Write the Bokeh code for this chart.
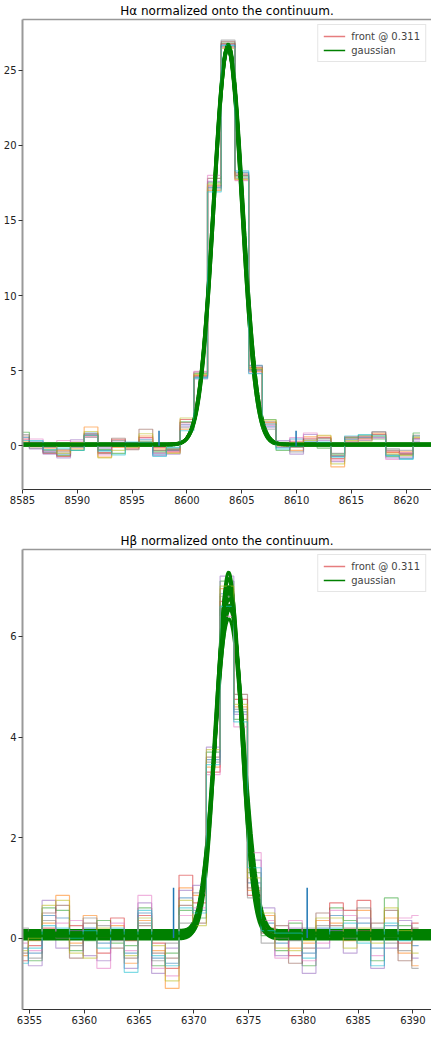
import numpy as np
from bokeh.plotting import figure
from bokeh.layouts import column
from bokeh.models import Range1d, Legend, LegendItem, FixedTicker, LinearAxis
from bokeh.embed import file_html
from bokeh.resources import INLINE

# ---------------- data ----------------
TAB10 = ["#1f77b4", "#ff7f0e", "#2ca02c", "#d62728", "#9467bd",
         "#8c564b", "#e377c2", "#7f7f7f", "#bcbd22", "#17becf"]

ha_title = "Hα normalized onto the continuum."
hb_title = "Hβ normalized onto the continuum."

ha_wave = [8585.00, 8586.25, 8587.50, 8588.75, 8590.00, 8591.25, 8592.50, 8593.75,
           8595.00, 8596.25, 8597.50, 8598.75, 8600.00, 8601.25, 8602.50, 8603.75,
           8605.00, 8606.25, 8607.50, 8608.75, 8610.00, 8611.25, 8612.50, 8613.75,
           8615.00, 8616.25, 8617.50, 8618.75, 8620.00, 8621.25]

ha_flux = [
    [0.55, 0.30, -0.40, -0.55, 0.10, 0.85, -0.30, 0.15, -0.05, 0.40, -0.55, -0.30, 1.40, 4.55, 17.2, 26.6, 18.2, 5.35, 1.30, -0.10, 0.45, 0.30, 0.20, -0.70, 0.40, 0.55, 0.60, -0.60, -0.85, 0.45],
    [0.30, -0.05, -0.20, -0.30, -0.20, 1.25, -0.75, -0.10, 0.10, 0.65, -0.20, -0.45, 1.10, 4.70, 17.0, 26.55, 17.7, 4.95, 1.55, 0.20, -0.30, 0.60, 0.65, -1.40, 0.30, 0.45, 0.80, -0.45, -0.40, 0.60],
    [0.90, 0.10, -0.30, -0.65, -0.30, 0.70, -0.25, -0.50, 0.00, 0.30, -0.35, -0.20, 1.60, 4.80, 17.5, 26.8, 17.9, 5.05, 1.75, -0.30, 0.10, 0.20, -0.15, -0.55, 0.55, 0.70, 0.45, -0.70, -0.60, 0.85],
    [0.45, 0.00, -0.50, -0.70, 0.05, 0.65, -0.45, 0.40, -0.15, 0.55, -0.10, -0.35, 1.75, 4.65, 17.3, 26.75, 18.0, 5.20, 1.45, 0.05, 0.30, 0.50, 0.55, -0.85, 0.60, 0.60, 0.75, -0.40, -0.55, 0.50],
    [0.20, -0.20, -0.55, -0.80, 0.40, 0.75, -0.15, 0.25, 0.20, 0.15, -0.65, -0.55, 1.30, 4.45, 17.6, 26.7, 17.8, 5.00, 1.20, 0.35, -0.55, 0.75, 0.35, -1.05, 0.25, 0.35, 0.55, -0.80, -0.75, 0.30],
    [0.65, 0.20, -0.10, -0.40, -0.05, 0.80, -0.50, 0.50, -0.25, 1.10, -0.30, -0.25, 1.55, 4.90, 17.8, 26.9, 18.1, 5.10, 1.60, 0.15, -0.10, 0.40, 0.50, -0.65, 0.50, 0.50, 0.90, -0.30, -0.50, 0.70],
    [0.40, 0.45, -0.35, 0.35, 0.30, 0.60, -0.60, 0.10, 0.05, 0.50, -0.50, -0.40, 1.45, 4.95, 18.0, 26.5, 17.65, 4.85, 1.35, -0.05, 0.55, 0.85, 0.10, -0.95, 0.20, 0.40, 0.50, -0.90, -0.45, 0.40],
    [0.75, -0.15, -0.45, -0.25, -0.10, 0.55, -0.05, 0.35, 0.15, 0.25, -0.45, -0.15, 1.20, 4.60, 17.1, 27.0, 18.0, 5.30, 1.10, 0.25, -0.40, 0.15, 0.45, -0.50, 0.45, 0.65, 0.95, -0.20, -0.30, 0.20],
    [0.15, 0.10, 0.10, -0.50, 0.20, 0.95, -0.80, -0.30, -0.10, 0.80, 0.10, -0.50, 1.85, 4.75, 17.4, 26.45, 17.75, 5.15, 1.70, 0.00, 0.20, 0.35, 0.70, -1.20, 0.35, 0.30, 0.65, -0.55, -0.65, 0.55],
    [0.35, 0.35, -0.25, -0.15, -0.30, 0.70, -0.35, -0.60, 0.25, 0.20, -0.70, -0.10, 1.00, 4.50, 16.9, 26.65, 18.3, 4.80, 1.45, -0.20, 0.00, 0.10, 0.25, -0.75, 0.65, 0.75, 0.70, -0.65, -0.90, 0.65],
]

# gaussian fit parameters (one per spectrum)
ha_amp = [26.35, 26.5, 26.4, 26.6, 26.45, 26.55, 26.3, 26.6, 26.4, 26.5]
ha_cen = [8603.72, 8603.70, 8603.78, 8603.75, 8603.68, 8603.80, 8603.74, 8603.76, 8603.70, 8603.78]
ha_sig = [1.30, 1.28, 1.32, 1.30, 1.29, 1.31, 1.33, 1.30, 1.31, 1.29]
ha_off = [0.08, 0.05, 0.10, 0.12, 0.06, 0.09, 0.04, 0.11, 0.07, 0.10]

ha_mark_x = [8597.45, 8609.95]
ha_mark_y0 = [0.0, 0.0]
ha_mark_y1 = [1.0, 1.0]

ha_xlim = (8585.0, 8622.3)
ha_ylim = (-2.91, 28.37)
ha_xticks = [8585, 8590, 8595, 8600, 8605, 8610, 8615, 8620]
ha_yticks = [0, 5, 10, 15, 20, 25]

hb_wave = [6354.275, 6355.525, 6356.775, 6358.025, 6359.275, 6360.525, 6361.775, 6363.025,
           6364.275, 6365.525, 6366.775, 6368.025, 6369.275, 6370.525, 6371.775, 6373.025,
           6374.275, 6375.525, 6376.775, 6378.025, 6379.275, 6380.525, 6381.775, 6383.025,
           6384.275, 6385.525, 6386.775, 6388.025, 6389.275, 6390.525]

hb_flux = [
    [-0.20, -0.30, 0.45, 0.40, 0.05, 0.20, -0.10, 0.15, -0.30, 0.50, -0.40, -0.50, 0.80, 0.55, 3.55, 6.85, 4.50, 1.10, 0.30, -0.10, 0.05, -0.30, 0.20, 0.45, 0.10, 0.30, -0.20, 0.25, 0.05, -0.15],
    [-0.35, -0.05, 0.30, 0.85, -0.10, 0.45, 0.10, 0.25, -0.50, 0.35, -0.25, -1.00, 1.00, 0.85, 3.40, 6.95, 4.60, 0.95, 0.45, 0.05, -0.20, -0.10, 0.35, 0.30, -0.05, 0.55, 0.10, 0.40, -0.30, -0.55],
    [0.10, -0.45, 0.60, 0.55, -0.25, -0.05, 0.35, -0.10, -0.15, 0.60, -0.55, -0.30, 0.55, 0.40, 3.70, 7.10, 4.35, 1.30, 0.05, -0.25, 0.30, -0.55, 0.00, 0.60, 0.35, -0.05, -0.45, 0.80, 0.25, 0.00],
    [-0.45, -0.15, 0.20, 0.10, 0.25, 0.00, -0.30, 0.40, -0.05, 0.45, -0.10, -0.60, 1.25, 0.70, 3.30, 6.70, 4.75, 0.85, 0.20, 0.15, -0.35, 0.05, 0.10, 0.70, 0.55, 0.75, 0.00, 0.10, -0.10, 0.30],
    [0.00, -0.55, 0.75, -0.20, 0.15, -0.35, -0.45, 0.00, -0.60, 0.70, -0.70, -0.20, 0.95, 1.05, 3.80, 7.20, 4.45, 1.55, 0.60, -0.35, 0.20, -0.70, -0.20, 0.15, -0.30, 0.40, -0.60, -0.20, 0.35, -0.40],
    [-0.30, 0.10, 0.50, 0.65, -0.40, 0.30, 0.00, -0.20, -0.40, 0.25, -0.30, -0.40, 0.65, 0.30, 3.60, 6.55, 4.85, 1.00, 0.10, 0.25, -0.50, -0.20, 0.50, 0.25, 0.20, 0.15, 0.30, 0.55, -0.45, 0.20],
    [-0.10, -0.25, 0.10, 0.30, 0.35, 0.10, -0.60, 0.30, -0.25, 0.85, -0.60, -0.75, 0.45, 0.60, 3.25, 6.40, 4.20, 1.70, 0.35, -0.40, 0.35, -0.45, -0.10, 0.55, 0.45, 0.05, -0.35, 0.00, 0.40, 0.45],
    [0.20, -0.40, 0.35, 0.00, -0.15, 0.40, 0.25, -0.05, 0.10, 0.30, -0.45, -0.10, 0.30, 0.90, 3.50, 6.80, 4.55, 0.80, -0.10, 0.00, -0.05, 0.20, 0.25, 0.10, 0.00, 0.60, 0.20, -0.10, -0.25, -0.60],
    [-0.25, 0.00, 0.65, 0.75, -0.30, -0.40, 0.20, 0.10, -0.35, 0.40, -0.15, -0.85, 0.75, 0.25, 3.75, 7.00, 4.65, 1.20, 0.50, -0.20, -0.25, -0.05, 0.40, 0.40, -0.20, 0.20, -0.10, 0.60, 0.15, -0.30],
    [-0.50, -0.20, 0.25, 0.20, 0.00, 0.15, -0.20, 0.20, -0.68, 0.55, -0.35, -0.55, 0.60, 0.50, 3.45, 6.60, 4.30, 1.40, 0.15, 0.10, 0.10, -0.40, 0.05, 0.20, 0.30, -0.10, -0.55, 0.30, -0.05, 0.05],
]

hb_amp = [6.35, 6.55, 6.80, 7.00, 7.25, 6.45, 6.90, 7.10, 6.65, 6.95]
hb_cen = [6373.20, 6373.25, 6373.15, 6373.20, 6373.18, 6373.28, 6373.22, 6373.15, 6373.24, 6373.20]
hb_sig = [1.30, 1.26, 1.20, 1.16, 1.10, 1.28, 1.18, 1.14, 1.23, 1.17]
hb_off = [0.00, 0.07, 0.12, 0.15, 0.03, 0.09, -0.02, 0.05, 0.10, 0.04]

hb_mark_x = [6368.15, 6380.35]
hb_mark_y0 = [0.0, 0.0]
hb_mark_y1 = [1.0, 1.0]

hb_xlim = (6354.36, 6391.7)
hb_ylim = (-1.42, 7.73)
hb_xticks = [6355, 6360, 6365, 6370, 6375, 6380, 6385, 6390]
hb_yticks = [0, 2, 4, 6]

legend_labels = ["front @ 0.311", "gaussian"]

FONT = "DejaVu Sans"


def panel(title, wave, flux, amp, cen, sig, off, mx, my0, my1,
          xlim, ylim, xticks, yticks, height, top_border):
    p = figure(width=431, height=height, output_backend="svg", toolbar_location=None,
               x_range=Range1d(*xlim), y_range=Range1d(*ylim),
               min_border_left=2, min_border_right=0, min_border_top=top_border,
               min_border_bottom=0)
    p.title.text = title
    p.title.align = "center"
    p.title.text_font = FONT
    p.title.text_font_size = "12px"
    p.title.text_font_style = "normal"
    p.title.text_color = "#000000"
    p.title.standoff = 3
    p.grid.visible = False
    p.outline_line_color = None
    p.background_fill_color = "white"
    p.border_fill_color = "white"

    for ax, ticks in ((p.xaxis, xticks), (p.yaxis, yticks)):
        ax.ticker = FixedTicker(ticks=ticks)
        ax.minor_tick_line_color = None
        ax.major_tick_in = 0
        ax.major_tick_out = 4
        ax.major_tick_line_color = "#333333"
        ax.major_label_text_font = FONT
        ax.major_label_text_font_size = "10px"
        ax.major_label_text_color = "#222222"
        ax.major_label_standoff = 2
    p.yaxis.axis_line_color = "#999999"
    p.yaxis.axis_line_width = 2
    p.xaxis.axis_line_color = "#333333"
    p.xaxis.axis_line_width = 1
    p.xaxis.formatter.use_scientific = False

    top = LinearAxis(ticker=FixedTicker(ticks=[]), major_label_text_font_size="0px",
                     major_tick_line_color=None, minor_tick_line_color=None,
                     axis_line_color="#999999", axis_line_width=1.5)
    p.add_layout(top, "above")

    xg = np.linspace(xlim[0] - 1, xlim[1] + 1, 900)
    for i, fl in enumerate(flux):
        p.step(wave, fl, mode="center", line_color=TAB10[i % 10], line_alpha=0.55, line_width=1.2)
        if i < len(amp):
            yg = off[i] + amp[i] * np.exp(-0.5 * ((xg - cen[i]) / sig[i]) ** 2)
            p.line(xg, yg, line_color="green", line_width=3)

    p.segment(x0=mx, y0=my0, x1=mx, y1=my1, line_color=TAB10[0], line_width=1.5)

    # legend proxies (not visible in the plot area)
    r_front = p.line([np.nan, np.nan], [np.nan, np.nan], line_color=TAB10[3], line_alpha=0.6, line_width=1.3)
    r_gauss = p.line([np.nan, np.nan], [np.nan, np.nan], line_color="green", line_width=1.5)
    leg = Legend(items=[LegendItem(label=legend_labels[0], renderers=[r_front]),
                        LegendItem(label=legend_labels[1], renderers=[r_gauss])],
                 location="top_right")
    leg.label_text_font = FONT
    leg.label_text_font_size = "10px"
    leg.label_height = 12
    leg.glyph_height = 12
    leg.glyph_width = 22
    leg.spacing = 2
    leg.padding = 5
    leg.margin = 5
    leg.label_standoff = 6
    leg.border_line_color = "#cccccc"
    leg.border_line_width = 1
    leg.background_fill_alpha = 0.85
    p.add_layout(leg)
    return p


p1 = panel(ha_title, ha_wave, ha_flux, ha_amp, ha_cen, ha_sig, ha_off,
           ha_mark_x, ha_mark_y0, ha_mark_y1, ha_xlim, ha_ylim, ha_xticks, ha_yticks,
           height=506, top_border=0)
p2 = panel(hb_title, hb_wave, hb_flux, hb_amp, hb_cen, hb_sig, hb_off,
           hb_mark_x, hb_mark_y0, hb_mark_y1, hb_xlim, hb_ylim, hb_xticks, hb_yticks,
           height=520, top_border=43)

layout = column(p1, p2, spacing=0)
open("out.html", "w").write(file_html(layout, INLINE))
